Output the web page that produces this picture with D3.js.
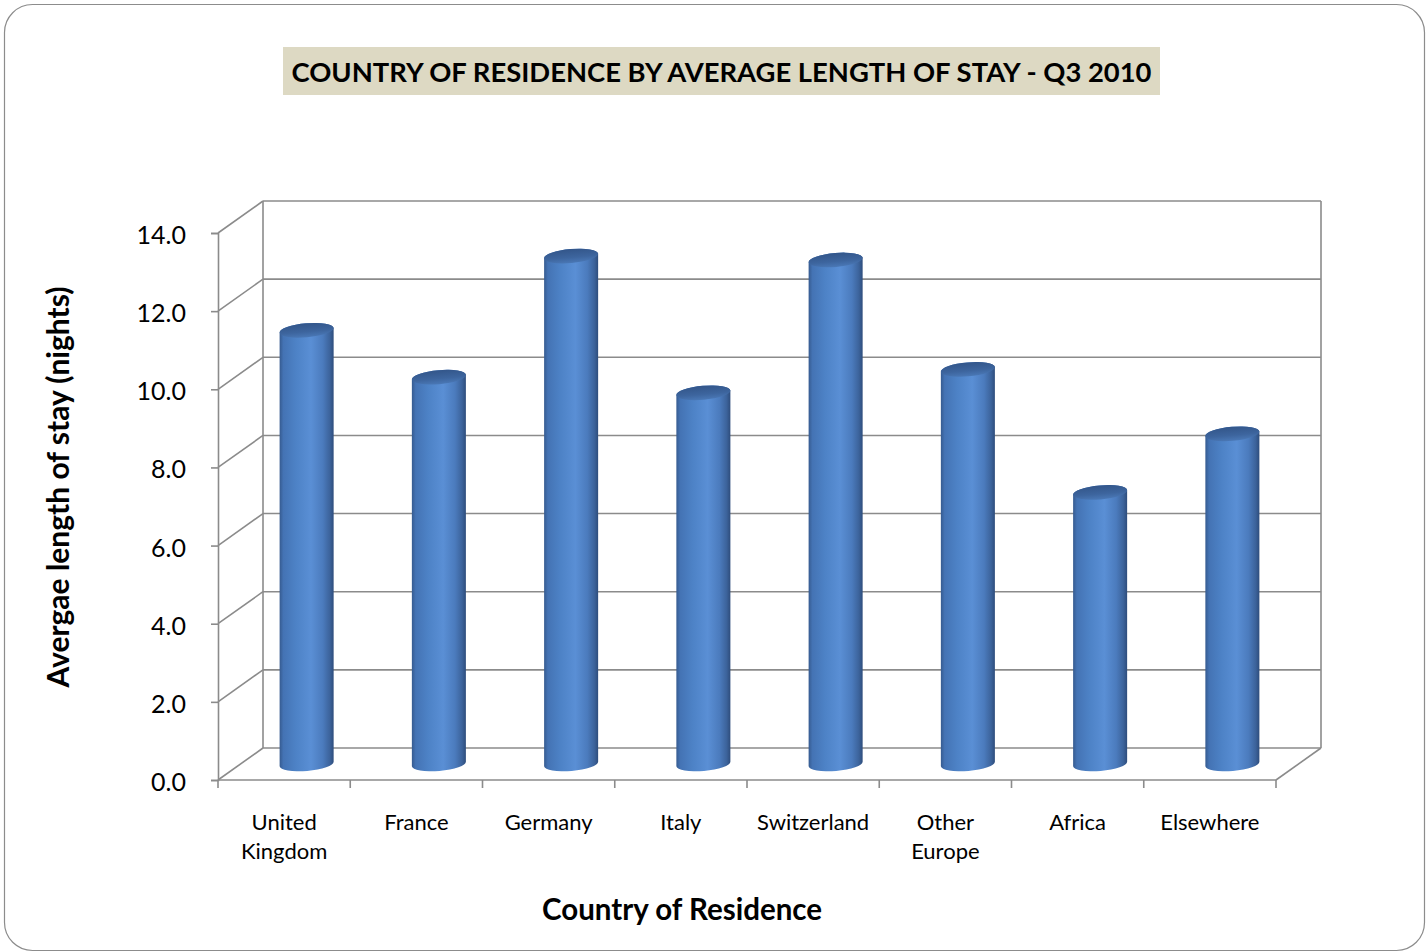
<!DOCTYPE html>
<html>
<head>
<meta charset="utf-8">
<script src="https://cdn.jsdelivr.net/npm/d3@7/dist/d3.min.js"></script>
<style>
  html, body { margin: 0; padding: 0; background: #ffffff; }
  svg { display: block; }
  text { font-family: Lato, "Open Sans", "DejaVu Sans", sans-serif; fill: #000; }
</style>
</head>
<body>
<svg id="chart" width="1426" height="952"></svg>
<script>
// Average length of stay (nights) by country of residence, Q3 2010
const categories = ["United Kingdom", "France", "Germany", "Italy", "Switzerland", "Other Europe", "Africa", "Elsewhere"];
const categoryLines = [["United", "Kingdom"], ["France"], ["Germany"], ["Italy"], ["Switzerland"], ["Other", "Europe"], ["Africa"], ["Elsewhere"]];
const stayNights = [11.1, 9.9, 13.0, 9.5, 12.9, 10.1, 6.95, 8.45];
const yTicks = [0, 2, 4, 6, 8, 10, 12, 14];

const titleText = "COUNTRY OF RESIDENCE BY AVERAGE LENGTH OF STAY - Q3 2010";
const xTitle = "Country of Residence";
const yTitle = "Avergae length of stay (nights)";

const svg = d3.select("#chart");

// Front plane of the 3-D box, plus the depth offset of the back wall
const x = d3.scaleBand().domain(categories).range([218, 1276]).paddingInner(0).paddingOuter(0);
const y = d3.scaleLinear().domain([0, 14]).range([780, 233]);
const depth = { dx: 45, dy: -32 };
const gridColor = "#8b8b8b";

// Outer frame
svg.append("rect")
  .attr("x", 4.5).attr("y", 4.5).attr("width", 1420).attr("height", 946)
  .attr("rx", 28).attr("ry", 28)
  .attr("fill", "#fff").attr("stroke", "#8c8c8c").attr("stroke-width", 1.2);

// Title banner
svg.append("rect")
  .attr("x", 283).attr("y", 47).attr("width", 877).attr("height", 48)
  .attr("fill", "#ddd9c3");
svg.append("text")
  .attr("x", 721.5).attr("y", 82)
  .attr("text-anchor", "middle")
  .attr("font-size", 27).attr("font-weight", "bold")
  .attr("textLength", 860).attr("lengthAdjust", "spacingAndGlyphs")
  .text(titleText);

const x0 = x.range()[0], x1 = x.range()[1];
const walls = svg.append("g").attr("stroke", gridColor).attr("stroke-width", 1.6).attr("fill", "none");

// Back wall gridlines and left side-wall diagonals
yTicks.forEach(t => {
  const yy = y(t);
  walls.append("line")
    .attr("x1", x0 + depth.dx).attr("x2", x1 + depth.dx)
    .attr("y1", yy + depth.dy).attr("y2", yy + depth.dy);
  walls.append("line")
    .attr("x1", x0).attr("y1", yy)
    .attr("x2", x0 + depth.dx).attr("y2", yy + depth.dy);
});
// Back wall vertical edges
[x0 + depth.dx, x1 + depth.dx].forEach(xx => {
  walls.append("line")
    .attr("x1", xx).attr("x2", xx)
    .attr("y1", y(14) + depth.dy).attr("y2", y(0) + depth.dy);
});
// Floor front edge and right diagonal
walls.append("line").attr("x1", x0).attr("x2", x1).attr("y1", y(0)).attr("y2", y(0));
walls.append("line")
  .attr("x1", x1).attr("y1", y(0))
  .attr("x2", x1 + depth.dx).attr("y2", y(0) + depth.dy);

// Front value axis
const yAxis = d3.axisLeft(y).tickValues(yTicks).tickFormat(d3.format(".1f")).tickSize(7).tickPadding(25);
const yAxisG = svg.append("g").attr("transform", `translate(${x0},0)`).call(yAxis);
yAxisG.select(".domain").attr("stroke", gridColor).attr("stroke-width", 1.6);
yAxisG.selectAll(".tick line").attr("stroke", gridColor).attr("stroke-width", 1.6);
yAxisG.selectAll(".tick text")
  .attr("font-size", 25).attr("font-family", "Lato, sans-serif")
  .attr("fill", "#000").attr("dy", "0.42em");

// Category axis ticks at band boundaries
const boundaries = categories.map(c => x(c)).concat([x1]);
svg.append("g").selectAll("line").data(boundaries).join("line")
  .attr("x1", d => d).attr("x2", d => d)
  .attr("y1", y(0)).attr("y2", y(0) + 8)
  .attr("stroke", gridColor).attr("stroke-width", 1.6);

// Category labels
const catLabels = svg.append("g");
categories.forEach((c, i) => {
  const t = catLabels.append("text")
    .attr("x", x(c) + x.bandwidth() / 2)
    .attr("y", 830)
    .attr("text-anchor", "middle")
    .attr("font-size", 22);
  categoryLines[i].forEach((ln, j) => {
    t.append("tspan").attr("x", x(c) + x.bandwidth() / 2).attr("dy", j === 0 ? 0 : 29).text(ln);
  });
});

// Axis titles
svg.append("text")
  .attr("x", 682).attr("y", 920)
  .attr("text-anchor", "middle")
  .attr("font-size", 29.5).attr("font-weight", "bold")
  .text(xTitle);
svg.append("text")
  .attr("transform", "translate(69,487) rotate(-90)")
  .attr("text-anchor", "middle")
  .attr("font-size", 30).attr("font-weight", "bold")
  .text(yTitle);

// Cylinder shading
const defs = svg.append("defs");
const bodyGrad = defs.append("linearGradient").attr("id", "cylBody")
  .attr("x1", "0%").attr("x2", "100%").attr("y1", "0%").attr("y2", "0%");
[["0%", "#365b90"], ["7%", "#4473b4"], ["30%", "#4d82c6"], ["58%", "#5a8fd5"],
 ["80%", "#4b7bbd"], ["93%", "#3c639b"], ["100%", "#2e4d7c"]]
  .forEach(([o, c]) => bodyGrad.append("stop").attr("offset", o).attr("stop-color", c));
const topGrad = defs.append("linearGradient").attr("id", "cylTop")
  .attr("x1", "0%").attr("x2", "0%").attr("y1", "0%").attr("y2", "100%");
[["0%", "#33568a"], ["60%", "#3d659e"], ["100%", "#4a78b6"]]
  .forEach(([o, c]) => topGrad.append("stop").attr("offset", o).attr("stop-color", c));

// Cylinders sit half-way into the depth of the box
const barW = x.bandwidth() * 0.41;
const rx = barW / 2, ry = 7, tilt = -5;
const rad = tilt * Math.PI / 180;
const sx = rx * Math.cos(rad), sy = rx * Math.sin(rad);

const bars = svg.append("g").selectAll("g").data(categories.map((c, i) => ({ c, v: stayNights[i] }))).join("g");
bars.each(function(d) {
  const g = d3.select(this);
  const cx = x(d.c) + x.bandwidth() / 2 + depth.dx / 2;
  const topY = y(d.v) + depth.dy / 2;
  const baseY = y(0) + depth.dy / 2;
  const bodyPath = `M${cx - sx},${topY - sy} L${cx - sx},${baseY - sy} ` +
    `A${rx},${ry} ${tilt} 0 0 ${cx + sx},${baseY + sy} ` +
    `L${cx + sx},${topY + sy} A${rx},${ry} ${tilt} 0 0 ${cx - sx},${topY - sy} Z`;
  g.append("path").attr("d", bodyPath).attr("fill", "url(#cylBody)");
  g.append("ellipse")
    .attr("cx", cx).attr("cy", topY).attr("rx", rx).attr("ry", ry)
    .attr("transform", `rotate(${tilt},${cx},${topY})`)
    .attr("fill", "url(#cylTop)");
});
</script>
</body>
</html>
